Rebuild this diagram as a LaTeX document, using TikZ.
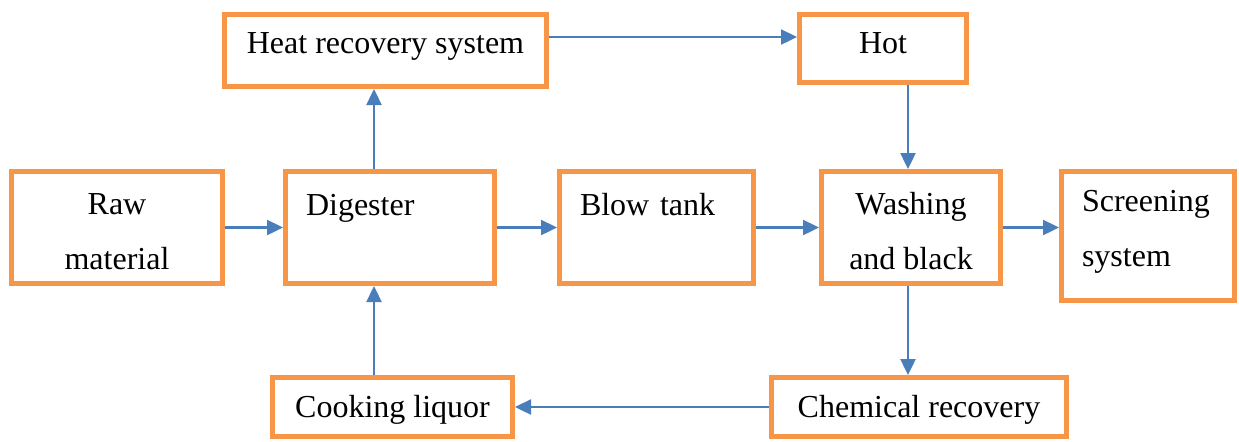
\documentclass[tikz,border=0pt]{standalone}
\usepackage{fontspec}
\setmainfont{Liberation Serif}
\usetikzlibrary{arrows.meta}
\usetikzlibrary{positioning}
\definecolor{boxorange}{HTML}{F79646}
\definecolor{arrowblue}{HTML}{4A7EBB}
\newcommand{\firstline}{\rule{0pt}{15pt}}
\tikzset{
box/.style={
	rectangle,
	draw=boxorange,
	line width=2.5pt,
	fill=white,
	text centered,
	align=center,
	font=\fontsize{16}{27.5}\selectfont,
	inner sep=0pt
},
leftbox/.style={
	box,
	align=left,
	inner xsep=10.25pt
},
oneline/.style={
	box,
	text height=11pt,
	text depth=1pt
},
arrow/.style={
	->,
	>={Triangle[length=8pt, width=7.5pt]},
	draw=arrowblue,
	line width=1.2pt
}
}
\begin{document}
\begin{tikzpicture}
\useasboundingbox (0,0) rectangle (619.5pt,-220.5pt);

\node (raw)    [box, minimum width=105.5pt, minimum height=56pt] at (58.5pt,-113.75pt) {\firstline Raw\\material};
\node (dig)    [leftbox, right=29pt of raw, text width=84pt, minimum height=56pt] {\firstline Digester\\\mbox{}};
\node (blow)   [leftbox, right=30pt of dig, text width=76.5pt, minimum height=56pt] {\firstline Blow tank\\\mbox{}};
\node (wash)   [box, right=31.5pt of blow, minimum width=89.5pt, minimum height=56pt] {\firstline Washing\\and black};
\node (screen) [leftbox, right=28pt of wash.north east, anchor=north west, text width=66pt, minimum height=64.5pt] {\firstline Screening\\system\rule[-12pt]{0pt}{1pt}};

\node (heat)   [oneline, above=40pt of dig, xshift=-2.25pt, minimum width=161pt, minimum height=36pt, text depth=8.5pt] {Heat recovery system};
\node (hot)    [oneline, right=124pt of heat.north east, anchor=north west, minimum width=83.5pt, minimum height=34pt, text depth=6.5pt] {Hot};
\node (cook)   [oneline, below=44.5pt of dig, xshift=1.25pt, minimum width=120pt, minimum height=29.5pt] {Cooking liquor};
\node (chem)   [oneline, below=44.5pt of wash, xshift=4pt, minimum width=147.5pt, minimum height=29.5pt] {Chemical recovery};

\draw [arrow] (raw.east) -- (dig.west);
\draw [arrow] (dig.east) -- (blow.west);
\draw [arrow] (blow.east) -- (wash.west);
\draw [arrow] (wash.east) -- (wash.east -| screen.west);
\draw [arrow] ([xshift=-8pt]dig.north) -- ([xshift=-8pt]dig.north |- heat.south);
\draw [arrow] ([yshift=6.75pt]heat.east) -- ([yshift=6.75pt]heat.east -| hot.west);
\draw [arrow] ([xshift=-1.5pt]wash.north |- hot.south) -- ([xshift=-1.5pt]wash.north);
\draw [arrow] ([xshift=-1.5pt]wash.south) -- ([xshift=-1.5pt]wash.south |- chem.north);
\draw [arrow] (chem.west) -- (cook.east);
\draw [arrow] ([xshift=-8pt]dig.south |- cook.north) -- ([xshift=-8pt]dig.south);

\end{tikzpicture}
\end{document}
